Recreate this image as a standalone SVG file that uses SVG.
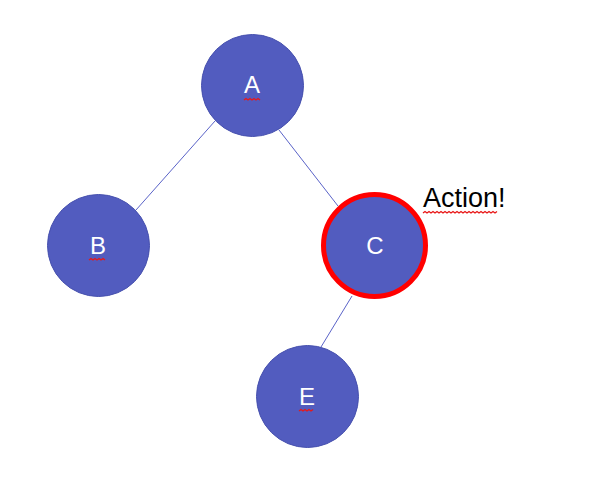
<svg xmlns="http://www.w3.org/2000/svg" width="590" height="481" viewBox="0 0 590 481">
<style>
.node{fill:#525CBF;stroke:#4650AE;stroke-width:1}
.lbl{fill:#ffffff;font-family:"Liberation Sans",Arial,sans-serif;font-size:24px;text-anchor:middle}
.edge{stroke:#5A63C8;stroke-width:1;fill:none}
.sq{stroke:#E81818;stroke-width:1.3;fill:none}
</style>
<rect width="590" height="481" fill="#ffffff"/>
<g id="connectors">
<line class="edge" x1="215" y1="121" x2="136" y2="210"/>
<line class="edge" x1="279" y1="130" x2="338" y2="206"/>
<line class="edge" x1="352" y1="296" x2="321" y2="347"/>
</g>
<g id="node-A">
<circle class="node" cx="252.5" cy="85.5" r="51"/>
<text class="lbl" x="252" y="93">A</text>
<path class="sq" d="M244 100 l2 -1.5 l2 1.5 l2 -1.5 l2 1.5 l2 -1.5 l2 1.5 l2 -1.5 l2 1.5"/>
</g>
<g id="node-B">
<circle class="node" cx="98.5" cy="245.5" r="51"/>
<text class="lbl" x="98" y="254">B</text>
<path class="sq" d="M89 260 l2 -1.5 l2 1.5 l2 -1.5 l2 1.5 l2 -1.5 l2 1.5 l2 -1.5 l2 1.5"/>
</g>
<g id="node-C">
<circle cx="374.5" cy="245.5" r="51" fill="#525CBF" stroke="#FF0000" stroke-width="5"/>
<text class="lbl" x="375" y="254">C</text>
</g>
<g id="node-E">
<circle class="node" cx="307.5" cy="396.5" r="51"/>
<text class="lbl" x="307" y="405">E</text>
<path class="sq" d="M299 411 l2 -1.5 l2 1.5 l2 -1.5 l2 1.5 l2 -1.5 l2 1.5 l2 -1.5"/>
</g>
<g id="label-action">
<text x="423" y="207" font-family="'Liberation Sans',Arial,sans-serif" font-size="27" fill="#000000">Action!</text>
<path class="sq" d="M423 213 l2 -1.5 l2 1.5 l2 -1.5 l2 1.5 l2 -1.5 l2 1.5 l2 -1.5 l2 1.5 l2 -1.5 l2 1.5 l2 -1.5 l2 1.5 l2 -1.5 l2 1.5 l2 -1.5 l2 1.5 l2 -1.5 l2 1.5 l2 -1.5 l2 1.5 l2 -1.5 l2 1.5 l2 -1.5 l2 1.5 l2 -1.5 l2 1.5 l2 -1.5 l2 1.5 l2 -1.5 l2 1.5 l2 -1.5 l2 1.5 l2 -1.5 l2 1.5 l2 -1.5 l2 1.5 l2 -1.5"/>
</g>
</svg>
